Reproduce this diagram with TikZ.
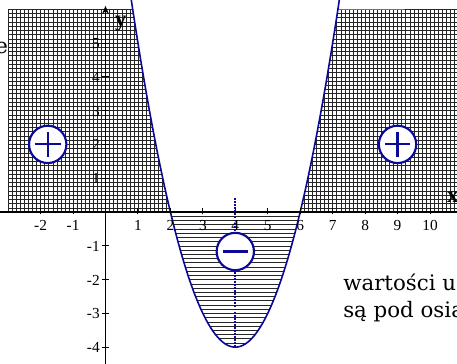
\documentclass[tikz,border=0pt]{standalone}
\usepackage{fontspec}
\setmainfont{Liberation Serif}
\newfontfamily\bodyfont{DejaVu Serif}
\usetikzlibrary{arrows.meta}
\definecolor{navy}{RGB}{10,10,150}
\begin{document}
\begin{tikzpicture}[x=24.34pt,y=25.35pt,
  gridline/.style={black!85,line width=0.32pt},
  hatchline/.style={black!85,line width=0.32pt},
  axisline/.style={black,line width=1.1pt},
  tickline/.style={black,line width=0.7pt},
  curve/.style={navy,line width=1.2pt},
  dotline/.style={navy,line width=1.6pt,dash pattern=on 1.4pt off 0.9pt},
  signcircle/.style={circle,draw=navy,fill=white,line width=1.6pt,minimum size=28pt,inner sep=0pt},
  signline/.style={navy,line width=1.6pt},
  ticklabel/.style={font=\fontsize{11.5}{12}\selectfont,inner sep=0pt},
  axislabel/.style={font=\fontsize{17}{18}\selectfont\bfseries,inner sep=0pt},
  prose/.style={font=\bodyfont\fontsize{16}{20}\selectfont,inner sep=0pt}]
\useasboundingbox (-3.251,-4.497) rectangle (10.832,6.272);
\clip (-3.251,-4.497) rectangle (10.832,6.272);
% crosshatched regions above the x-axis
\begin{scope}
  \clip (-3,0) -- (-3,6) -- (0.838,6) -- plot[domain=0.838:2,samples=40] (\x,{\x*\x-8*\x+12}) -- cycle;
  \draw[gridline] (-3,0) grid[xstep=0.125,ystep=0.125] (2,6);
\end{scope}
\begin{scope}
  \clip (6,0) -- plot[domain=6:7.162,samples=40] (\x,{\x*\x-8*\x+12}) -- (11,6) -- (11,0) -- cycle;
  \draw[gridline] (6,0) grid[xstep=0.125,ystep=0.125] (11,6);
\end{scope}
% horizontal hatch below the x-axis
\begin{scope}
  \clip (2,0) -- plot[domain=2:6,samples=80] (\x,{\x*\x-8*\x+12}) -- cycle;
  \foreach \k in {1,...,32} {
    \draw[hatchline] (1.9,-\k*0.125) -- (6.1,-\k*0.125);
  }
\end{scope}
% parabola
\draw[curve] plot[domain=0.7:7.3,samples=120] (\x,{\x*\x-8*\x+12});
% axes
\coordinate (xl) at (-3.4,0);
\coordinate (xr) at (11,0);
\coordinate (yb) at (0,-4.7);
\coordinate (yt) at (0,6.1);
\draw[axisline] (xl) -- (xr);
\draw[axisline,-{Stealth[length=6pt,width=5pt]}] (yb) -- (yt);
% ticks and labels
\foreach \t in {-2,-1,1,2,3,4,5,6,7,8,9,10} {
  \draw[tickline] (\t,-0.07) -- (\t,0.13);
  \node[ticklabel,anchor=base] (xt\t) at (\t,-0.56) {\t};
}
\foreach \t in {-4,-3,-2,-1,1,2,3,4,5} {
  \draw[tickline] (-0.12,\t) -- (0.12,\t);
  \node[ticklabel,anchor=base east] (yt\t) at (-0.17,\t-0.165) {\t};
}
\node[axislabel,anchor=base west] (xlab) at (10.52,0.27) {x};
\node[axislabel,anchor=base west] (ylab) at (0.29,5.5) {y};
% axis of symmetry
\coordinate (dtop) at (4,0.41);
\coordinate (vtx) at (4,-4);
\draw[dotline] (dtop) -- (vtx);
% sign circles
\node[signcircle] (pl) at (-1.78,2) {};
\node[signcircle] (pr) at (9,2) {};
\node[signcircle] (mn) at (4,-1.17) {};
\draw[signline] ([xshift=-9.6pt]pl.center) -- ([xshift=9.6pt]pl.center);
\draw[signline] ([yshift=-9.6pt]pl.center) -- ([yshift=9.6pt]pl.center);
\draw[signline] ([xshift=-9.6pt]pr.center) -- ([xshift=9.6pt]pr.center);
\draw[signline] ([yshift=-9.6pt]pr.center) -- ([yshift=9.6pt]pr.center);
\draw[signline] ([xshift=-9.6pt]mn.center) -- ([xshift=9.6pt]mn.center);
% text fragments
\node[prose,anchor=base east] (tl) at (-3.0,4.70) {e};
\node[prose,anchor=base west] (t1) at (7.32,-2.337) {wartości u};
\node[prose,anchor=base west] (t2) at (7.32,-3.127) {są pod osią};
\end{tikzpicture}
\end{document}
